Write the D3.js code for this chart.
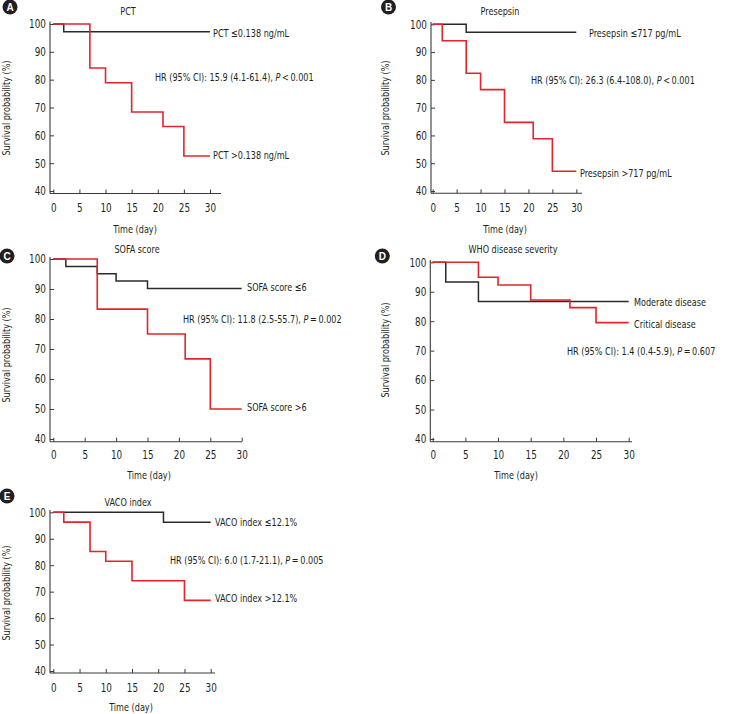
<!DOCTYPE html>
<html><head><meta charset="utf-8">
<script src="https://cdn.jsdelivr.net/npm/d3@7"></script>
<style>
html,body{margin:0;padding:0;background:#fff;}
svg text{font-family:"Liberation Sans Narrow","Arial Narrow","DejaVu Sans Condensed","Roboto Condensed",sans-serif;font-stretch:condensed;fill:#231f20;}
</style></head>
<body>
<svg id="chart" width="744" height="714"></svg>
<script>
// ---------- DATA ----------
const xTicks = [0, 5, 10, 15, 20, 25, 30];
const yTicks = [40, 50, 60, 70, 80, 90, 100];

// A: PCT
const pctLowTime = [0, 2, 30];
const pctLowSurv = [100, 97.2, 97.2];
const pctHighTime = [0, 7, 10, 15, 21, 25, 30];
const pctHighSurv = [100, 84.2, 78.9, 68.4, 63.2, 52.6, 52.6];

// B: Presepsin
const presLowTime = [0, 7, 30];
const presLowSurv = [100, 97.1, 97.1];
const presHighTime = [0, 2, 7, 10, 15, 21, 25, 30];
const presHighSurv = [100, 94.1, 82.4, 76.5, 64.7, 58.8, 47.1, 47.1];

// C: SOFA score
const sofaLowTime = [0, 2, 7, 10, 15, 30];
const sofaLowSurv = [100, 97.5, 95.1, 92.7, 90.2, 90.2];
const sofaHighTime = [0, 7, 15, 21, 25, 30];
const sofaHighSurv = [100, 83.3, 75.0, 66.7, 50.0, 50.0];

// D: WHO disease severity
const modTime = [0, 2, 7, 30];
const modSurv = [100, 93.3, 86.7, 86.7];
const critTime = [0, 7, 10, 15, 21, 25, 30];
const critSurv = [100, 94.9, 92.3, 87.2, 84.6, 79.5, 79.5];

// E: VACO index
const vacoLowTime = [0, 21, 30];
const vacoLowSurv = [100, 96.2, 96.2];
const vacoHighTime = [0, 2, 7, 10, 15, 25, 30];
const vacoHighSurv = [100, 96.3, 85.2, 81.5, 74.1, 66.7, 66.7];

const panelLetters = ["A", "B", "C", "D", "E"];
const panelTitles = ["PCT", "Presepsin", "SOFA score", "WHO disease severity", "VACO index"];
const blackLabels = ["PCT \u22640.138 ng/mL", "Presepsin \u2264717 pg/mL", "SOFA score \u22646", "Moderate disease", "VACO index \u226412.1%"];
const redLabels = ["PCT >0.138 ng/mL", "Presepsin >717 pg/mL", "SOFA score >6", "Critical disease", "VACO index >12.1%"];
const hrTexts = [
  ["HR (95% CI): 15.9 (4.1-61.4), ", "P", "\u2009<\u20090.001"],
  ["HR (95% CI): 26.3 (6.4-108.0), ", "P", "\u2009<\u20090.001"],
  ["HR (95% CI): 11.8 (2.5-55.7), ", "P", "\u2009=\u20090.002"],
  ["HR (95% CI): 1.4 (0.4-5.9), ", "P", "\u2009=\u20090.607"],
  ["HR (95% CI): 6.0 (1.7-21.1), ", "P", "\u2009=\u20090.005"]
];
const seriesBlack = [[pctLowTime, pctLowSurv], [presLowTime, presLowSurv], [sofaLowTime, sofaLowSurv], [modTime, modSurv], [vacoLowTime, vacoLowSurv]];
const seriesRed = [[pctHighTime, pctHighSurv], [presHighTime, presHighSurv], [sofaHighTime, sofaHighSurv], [critTime, critSurv], [vacoHighTime, vacoHighSurv]];

// ---------- LAYOUT ----------
const layouts = [
  {ax:50,  x0:53.3,  x1:210,   y1:24,    y0:191,  bot:193.5, right:221, top:21.5, circ:[10,7],   title:[128,11],  ylab:[6,108],   time:[135,229], tickY:208, bl:[213,33],  rl:[213,155], hr:[155,77]},
  {ax:431, x0:432.7, x1:576.3, y1:24.3,  y0:191,  bot:193.3, right:582, top:22,   circ:[388.5,7],title:[500,11],  ylab:[385,108], time:[505,229], tickY:208, bl:[589,33],  rl:[580,173], hr:[531,80]},
  {ax:50,  x0:53.3,  x1:241.7, y1:259,   y0:439,  bot:441.7, right:242, top:257,  circ:[7,256],  title:[137,249], ylab:[6,355],   time:[149,475], tickY:455, bl:[247,287], rl:[247,407], hr:[183,319]},
  {ax:430.3,x0:432.7,x1:628.7, y1:262.3, y0:439,  bot:441.7, right:632, top:260,  circ:[382.3,256],title:[513,249],ylab:[385,350], time:[516,475], tickY:455, bl:[634,302], rl:[634,324], hr:[567,351]},
  {ax:50,  x0:53.3,  x1:210.7, y1:512.3, y0:671,  bot:673,   right:215, top:510,  circ:[7,496],  title:[128,502], ylab:[6,593],   time:[131,707], tickY:688, bl:[215,522], rl:[215,598], hr:[170,560]}
];

const svg = d3.select("#chart");
const RED = "#e3242b", BLACK = "#2b2b2b", AX = "#3a3a3a";
const FS = 11;
const SX = 0.82; // horizontal condensing of the typeface

layouts.forEach((L, i) => {
  const g = svg.append("g");
  const x = d3.scaleLinear().domain([0, 30]).range([L.x0, L.x1]);
  const y = d3.scaleLinear().domain([40, 100]).range([L.y0, L.y1]);

  g.append("line").attr("x1", L.ax).attr("x2", L.ax).attr("y1", L.top).attr("y2", L.bot)
    .attr("stroke", AX).attr("stroke-width", 1.1);
  g.append("line").attr("x1", L.ax).attr("x2", L.right).attr("y1", L.bot).attr("y2", L.bot)
    .attr("stroke", AX).attr("stroke-width", 1.1);

  const ya = g.append("g").attr("transform", `translate(${L.ax},0)`)
    .call(d3.axisLeft(y).tickValues(yTicks).tickSize(-4).tickPadding(4).tickSizeOuter(0));
  ya.select(".domain").remove();
  ya.selectAll("line").attr("stroke", AX);
  ya.selectAll("text").attr("font-size", FS + 1).attr("fill", "#231f20").attr("font-family", null);

  const xa = g.append("g").attr("transform", `translate(0,${L.bot})`)
    .call(d3.axisBottom(x).tickValues(xTicks).tickSize(-4).tickPadding(0).tickSizeOuter(0));
  xa.select(".domain").remove();
  xa.selectAll("line").attr("stroke", AX);
  xa.selectAll("text").attr("font-size", FS + 1).attr("y", L.tickY - L.bot).attr("dy", "0.35em")
    .attr("fill", "#231f20").attr("font-family", null);

  const line = d3.line().x(d => x(d[0])).y(d => y(d[1])).curve(d3.curveStepAfter);
  const toPts = s => s[0].map((t, k) => [t, s[1][k]]);

  g.append("path").datum(toPts(seriesBlack[i])).attr("d", line)
    .attr("fill", "none").attr("stroke", BLACK).attr("stroke-width", 1.5);
  g.append("path").datum(toPts(seriesRed[i])).attr("d", line)
    .attr("fill", "none").attr("stroke", RED).attr("stroke-width", 1.6);

  g.append("circle").attr("cx", L.circ[0]).attr("cy", L.circ[1]).attr("r", 7.5).attr("fill", "#231f20");
  g.append("text").attr("class", "letter").attr("x", L.circ[0]).attr("y", L.circ[1]).attr("dy", "0.36em")
    .attr("text-anchor", "middle").attr("font-size", 10).attr("font-weight", "bold")
    .style("fill", "#fff").style("font-family", "'Liberation Sans','DejaVu Sans',sans-serif")
    .text(panelLetters[i]);

  g.append("text").attr("x", L.title[0]).attr("y", L.title[1]).attr("dy", "0.35em")
    .attr("text-anchor", "middle").attr("font-size", FS).text(panelTitles[i]);

  g.append("text").attr("transform", `translate(${L.ylab[0]},${L.ylab[1]}) rotate(-90)`)
    .attr("dy", "0.35em").attr("text-anchor", "middle").attr("font-size", FS)
    .text("Survival probability (%)");

  g.append("text").attr("x", L.time[0]).attr("y", L.time[1]).attr("dy", "0.35em")
    .attr("text-anchor", "middle").attr("font-size", FS).text("Time (day)");

  g.append("text").attr("x", L.bl[0]).attr("y", L.bl[1]).attr("dy", "0.35em")
    .attr("font-size", FS).text(blackLabels[i]);
  g.append("text").attr("x", L.rl[0]).attr("y", L.rl[1]).attr("dy", "0.35em")
    .attr("font-size", FS).text(redLabels[i]);

  const hr = g.append("text").attr("x", L.hr[0]).attr("y", L.hr[1]).attr("dy", "0.35em")
    .attr("font-size", FS);
  hr.append("tspan").text(hrTexts[i][0]);
  hr.append("tspan").attr("font-style", "italic").text(hrTexts[i][1]);
  hr.append("tspan").text(hrTexts[i][2]);
});

// condense all text horizontally to mimic the narrow typeface
svg.selectAll("text:not(.letter)").each(function () {
  const t = d3.select(this);
  const tx = +t.attr("x") || 0, ty = +t.attr("y") || 0;
  const base = t.attr("transform") || "";
  t.attr("x", 0).attr("y", 0)
   .attr("transform", `${base} translate(${tx},${ty}) scale(${SX},1)`);
});
</script>
</body></html>
